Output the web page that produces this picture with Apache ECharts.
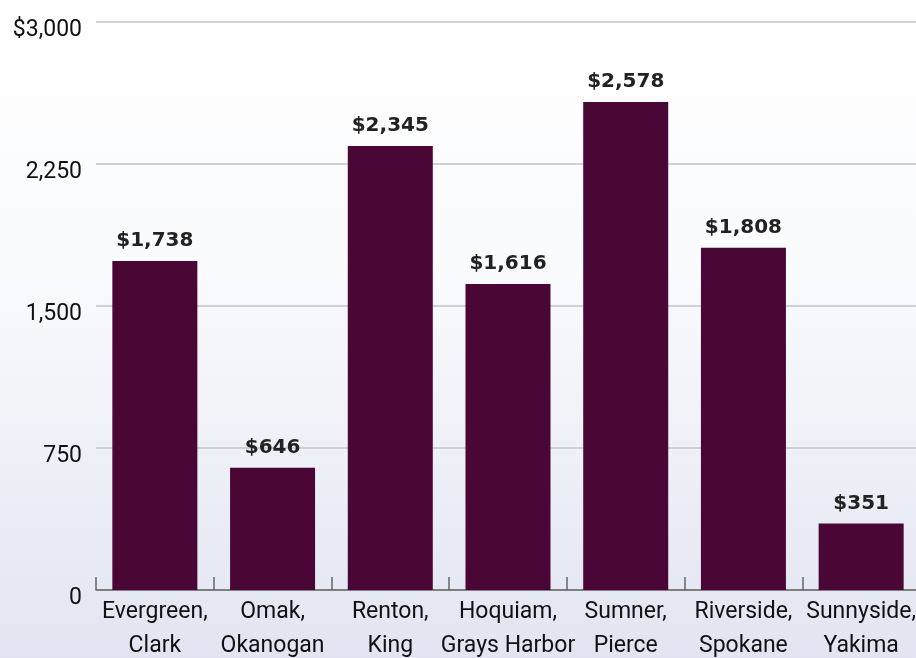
<!DOCTYPE html>
<html>
<head>
<meta charset="utf-8">
<script src="https://cdn.jsdelivr.net/npm/echarts@6/dist/echarts.min.js"></script>
<style>
html,body{margin:0;padding:0;}
#chart{width:916px;height:658px;}
</style>
</head>
<body>
<div id="chart"></div>
<script>
const categories = ["Evergreen,\nClark", "Omak,\nOkanogan", "Renton,\nKing", "Hoquiam,\nGrays Harbor", "Sumner,\nPierce", "Riverside,\nSpokane", "Sunnyside,\nYakima"];
const values = [1738, 646, 2345, 1616, 2578, 1808, 351];
const yTicks = [0, 750, 1500, 2250, 3000];

const chart = echarts.init(document.getElementById('chart'));
const fmt = v => v.toLocaleString('en-US');
chart.setOption({
  animation: false,
  backgroundColor: {
    type: 'linear', x: 0, y: 0, x2: 0, y2: 1,
    colorStops: [
      {offset: 0, color: '#ffffff'},
      {offset: 0.4, color: '#fafbfd'},
      {offset: 1, color: '#e1e5f1'}
    ]
  },
  grid: {left: 96, top: 22, width: 824, height: 568, containLabel: false, outerBoundsMode: 'none'},
  xAxis: {
    type: 'category',
    data: categories,
    boundaryGap: true,
    axisLine: {lineStyle: {color: '#666', width: 1.5}},
    axisTick: {show: true, inside: true, length: 13, alignWithLabel: false, lineStyle: {color: '#666', width: 1.5}},
    axisLabel: {
      fontFamily: 'Roboto', fontSize: 23, color: '#111', lineHeight: 34, margin: 5, interval: 0
    }
  },
  yAxis: {
    type: 'value',
    min: yTicks[0], max: yTicks[yTicks.length - 1], interval: yTicks[1] - yTicks[0],
    axisLine: {show: false},
    axisTick: {show: false},
    splitLine: {lineStyle: {color: '#c4c4c4', width: 1.5}},
    axisLabel: {
      fontFamily: 'Roboto', fontSize: 23, color: '#111', margin: 14,
      verticalAlign: 'top', lineHeight: 16,
      formatter: v => v === yTicks[yTicks.length - 1] ? '$' + fmt(v) : fmt(v)
    }
  },
  series: [{
    type: 'bar',
    data: values,
    barWidth: 85,
    itemStyle: {color: '#4a0634'},
    label: {
      show: true, position: 'top', distance: 10,
      fontFamily: 'DejaVu Sans', fontWeight: 'bold', fontSize: 20, color: '#222',
      formatter: p => '$' + fmt(p.value)
    }
  }]
});
</script>
</body>
</html>
